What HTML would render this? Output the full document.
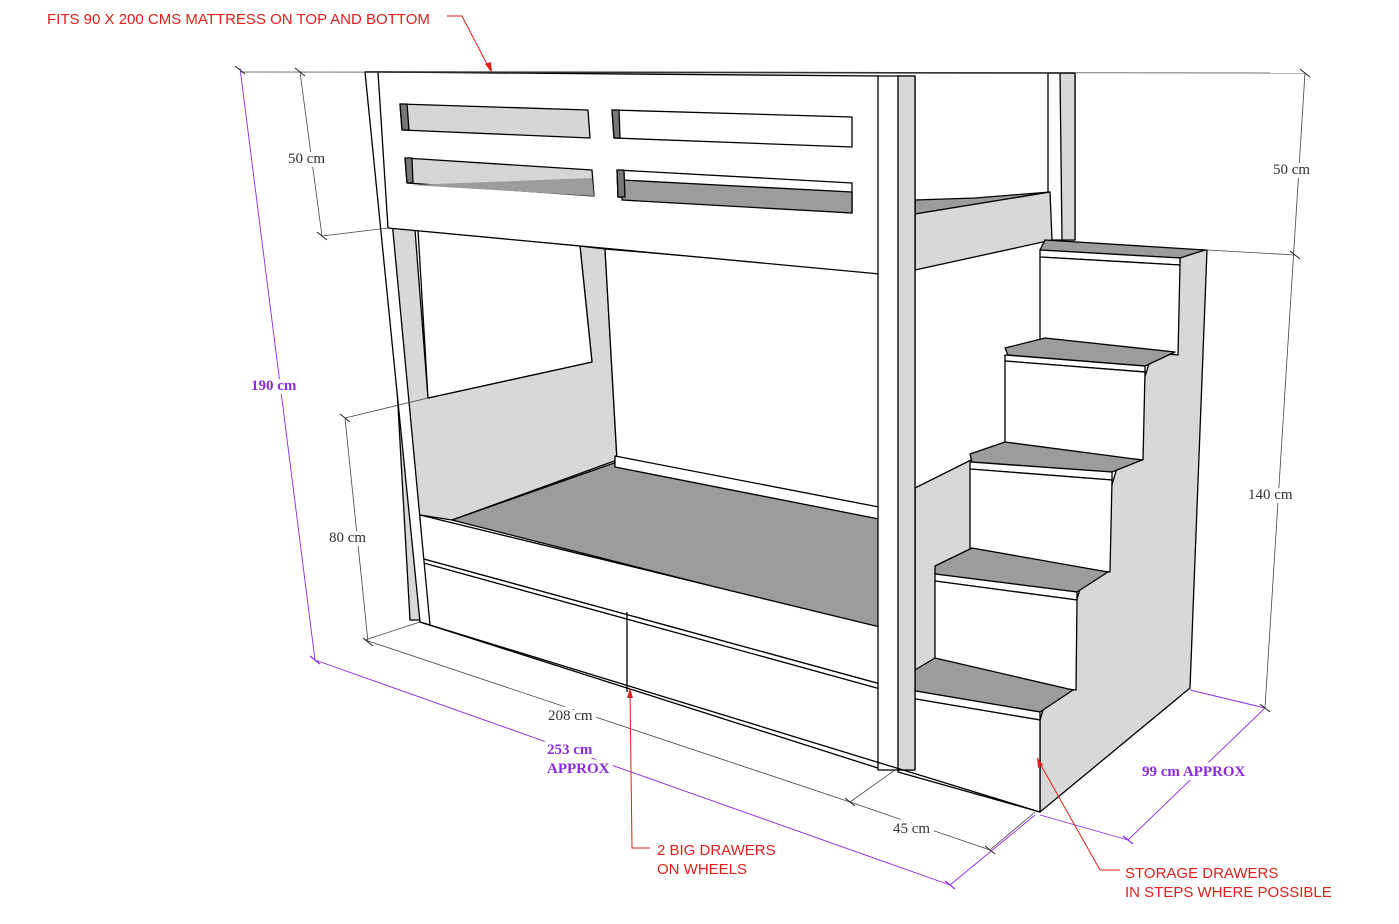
<!DOCTYPE html>
<html><head><meta charset="utf-8"><style>
html,body{margin:0;padding:0;background:#fff;}
svg{display:block;}
.d{font-family:"Liberation Serif",serif;font-size:15px;fill:#333;stroke:#fff;stroke-width:8px;paint-order:stroke;}
.p{font-family:"Liberation Serif",serif;font-size:15px;fill:#8a2be2;font-weight:bold;stroke:#fff;stroke-width:8px;paint-order:stroke;}
.r{font-family:"Liberation Sans",sans-serif;font-size:15px;fill:#e0201c;}
</style></head><body>
<svg width="1399" height="924" viewBox="0 0 1399 924" xmlns="http://www.w3.org/2000/svg">
<g stroke="#000" stroke-width="1.3" stroke-linejoin="round">
<polygon points="388,228 415,230 428,398 592,362 580,246 605,249 617,460 452,520 420,515 422,620 410,620" fill="#d8d8d8"/>
<polygon points="418,230 580,246 592,362 428,398" fill="#fff"/>
<polygon points="605,249 878,272 884,515 617,460" fill="#fff"/>
<polygon points="452,520 617,462 884,512 884,630" fill="#9c9c9c"/>
<polygon points="615,456 884,508 884,520 615,467" fill="#fff"/>
<polygon points="420,515 884,628 884,685 420,558" fill="#fff"/>
<polygon points="420,558 884,685 884,770 420,622" fill="#fff"/>
<line x1="420" y1="562" x2="884" y2="690"/>
<line x1="627" y1="612" x2="627" y2="692"/>
<polygon points="365,72 378,72 430,625 420,622" fill="#fff"/>
<polygon points="378,72 880,76 880,274 388,228" fill="#fff"/>
<polygon points="400,104 588,110 590,138 402,130" fill="#d6d6d6"/>
<polygon points="400,104 407,104 409,130 402,130" fill="#777"/>
<polygon points="612,110 852,117 852,147 614,138" fill="#fff"/>
<polygon points="612,110 619,110 620,138 614,138" fill="#777"/>
<polygon points="405,158 592,170 594,196 407,183" fill="#d6d6d6"/>
<polygon points="410,185 592,178 594,196" fill="#9c9c9c" stroke="none"/>
<polygon points="405,158 412,158 413,183 407,183" fill="#777"/>
<polygon points="617,170 852,183 852,213 618,197" fill="#fff"/>
<polygon points="622,180 852,192 852,213 622,200" fill="#9c9c9c"/>
<polygon points="617,170 624,170 625,197 618,197" fill="#777"/>
<polygon points="1048,73 1075,73 1075,240 1048,240" fill="#fff"/>
<polygon points="1060,73 1075,73 1075,240 1062,240" fill="#d8d8d8"/>
<polygon points="915,200 975,198 1050,192 915,214" fill="#9c9c9c"/>
<polygon points="915,214 1050,192 1052,240 915,270" fill="#d8d8d8"/>
<polygon points="915,488 975,458 975,690 915,680" fill="#d8d8d8"/>
<polygon points="1180,250 1207,250 1190,688 1040,812 1040,720 1180,262" fill="#d8d8d8"/>
<polygon points="1045,240 1205,250 1180,258 1040,250" fill="#9c9c9c"/>
<polygon points="1040,250 1180,258 1180,265 1040,257" fill="#fff"/>
<polygon points="1040,257 1180,265 1178,355 1040,340" fill="#fff"/>
<polygon points="1005,348 1045,338 1175,352 1145,366 1008,355" fill="#9c9c9c"/>
<polygon points="1005,355 1145,366 1145,372 1005,361" fill="#fff"/>
<polygon points="1005,361 1145,372 1143,460 1005,445" fill="#fff"/>
<polygon points="970,454 1005,442 1142,460 1112,472 972,462" fill="#9c9c9c"/>
<polygon points="970,462 1112,472 1112,480 970,469" fill="#fff"/>
<polygon points="970,469 1112,480 1110,572 970,560" fill="#fff"/>
<polygon points="935,566 972,548 1108,572 1077,592 935,574" fill="#9c9c9c"/>
<polygon points="935,574 1077,592 1077,600 935,581" fill="#fff"/>
<polygon points="935,581 1077,600 1076,690 935,675" fill="#fff"/>
<polygon points="898,680 935,658 1073,690 1040,712 898,688" fill="#9c9c9c"/>
<polygon points="898,688 1040,712 1040,720 898,696" fill="#fff"/>
<polygon points="898,696 1040,720 1040,812 898,772" fill="#fff"/>
<polygon points="878,76 915,76 915,770 884,770 878,770" fill="#fff"/>
<polygon points="898,76 915,76 915,770 898,770" fill="#d8d8d8"/>
<line x1="420" y1="622" x2="1040" y2="812"/>
</g>
<line x1="365" y1="72" x2="1075" y2="73" stroke="#000" stroke-width="1.5"/>
<g stroke="#444" stroke-width="0.8" fill="none">
<line x1="240" y1="72" x2="1305" y2="73"/>
<line x1="300" y1="72" x2="322" y2="236"/>
<line x1="322" y1="236" x2="388" y2="228"/>
<line x1="345" y1="418" x2="368" y2="642"/>
<line x1="345" y1="418" x2="428" y2="398"/>
<line x1="365" y1="640" x2="420" y2="622"/>
<line x1="365" y1="640" x2="850" y2="802"/>
<line x1="850" y1="802" x2="895" y2="770"/>
<line x1="850" y1="802" x2="990" y2="850"/>
<line x1="990" y1="850" x2="1035" y2="812"/>
<line x1="1305" y1="73" x2="1265" y2="708"/>
<line x1="1207" y1="250" x2="1295" y2="255"/>
</g>
<g stroke="#8a2be2" stroke-width="0.9" fill="none">
<line x1="240" y1="68" x2="315" y2="660"/>
<line x1="315" y1="660" x2="950" y2="885"/>
<line x1="950" y1="885" x2="1035" y2="815"/>
<line x1="1190" y1="690" x2="1265" y2="708"/>
<line x1="1265" y1="708" x2="1128" y2="840"/>
<line x1="1040" y1="815" x2="1128" y2="840"/>
</g>
<g stroke="#222" stroke-width="1">
<path d="M235,66l10,8M295,68l10,8M317,232l10,8M340,414l10,8M363,638l10,8M845,798l10,8M985,846l10,8M1300,69l10,8M1290,251l10,8M1260,704l10,8"/>
</g>
<g stroke="#8a2be2" stroke-width="1.2">
<path d="M310,656l10,8M945,881l10,8M1123,836l10,8"/>
</g>
<text class="d" x="288" y="163">50 cm</text>
<text class="d" x="1273" y="174">50 cm</text>
<text class="d" x="1248" y="499">140 cm</text>
<text class="d" x="329" y="542">80 cm</text>
<text class="d" x="548" y="720">208 cm</text>
<text class="d" x="893" y="833">45 cm</text>
<text class="p" x="251" y="390">190 cm</text>
<text class="p" x="547" y="754">253 cm</text>
<text class="p" x="547" y="773">APPROX</text>
<text class="p" x="1142" y="776">99 cm APPROX</text>
<text class="r" x="47" y="24">FITS 90 X 200 CMS MATTRESS ON TOP AND BOTTOM</text>
<g stroke="#e0201c" stroke-width="1" fill="none">
<polyline points="447,16 462,16 490,70"/>
<polyline points="630,690 632,848 650,848"/>
<polyline points="1038,760 1100,870 1120,870"/>
</g>
<g fill="#e0201c">
<polygon points="492,73 485,64 491,62"/>
<polygon points="630,688 627,698 633,698"/>
<polygon points="1037,757 1038,768 1043,765"/>
</g>
<text class="r" x="657" y="855">2 BIG DRAWERS</text>
<text class="r" x="657" y="874">ON WHEELS</text>
<text class="r" x="1125" y="878">STORAGE DRAWERS</text>
<text class="r" x="1125" y="897">IN STEPS WHERE POSSIBLE</text>
</svg>
</body></html>
